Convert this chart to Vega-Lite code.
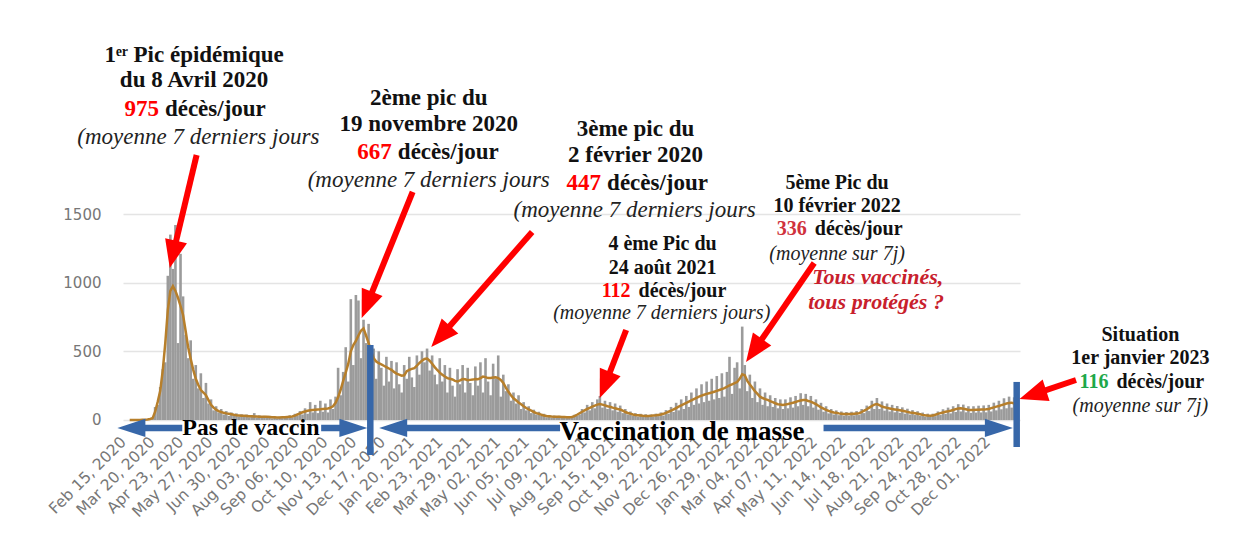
{
"$schema": "https://vega.github.io/schema/vega-lite/v6.json",
"width": 897, "height": 400,
"autosize": {"type": "none"},
"padding": {"left": 123, "top": 30, "right": 237, "bottom": 122},
"background": "white",
"config": {"view": {"stroke": null},
 "axisX": {"labelAngle": -45, "labelFont": "DejaVu Sans", "labelFontSize": 15.5, "labelColor": "#777777", "ticks": false, "domain": false, "grid": false, "labelOverlap": false, "labelSeparation": -400, "labelPadding": 4, "labelBound": false, "labelFlush": false},
 "axisY": {"grid": true, "gridColor": "#e4e4e4", "gridWidth": 1.5, "domain": false, "ticks": false, "labelFont": "DejaVu Sans", "labelFontSize": 15, "labelColor": "#777777", "labelPadding": 22, "labelOverlap": false}},
"datasets": {
"quotidien": [
{"date":"2020-02-17","deces":0,"moy7":0},{"date":"2020-02-20","deces":0,"moy7":0},{"date":"2020-02-23","deces":0,"moy7":0},{"date":"2020-02-26","deces":1,"moy7":0},{"date":"2020-02-29","deces":1,"moy7":0},
{"date":"2020-03-03","deces":2,"moy7":1},{"date":"2020-03-06","deces":3,"moy7":2},{"date":"2020-03-09","deces":6,"moy7":4},{"date":"2020-03-12","deces":12,"moy7":7},{"date":"2020-03-15","deces":18,"moy7":12},{"date":"2020-03-18","deces":95,"moy7":60},{"date":"2020-03-21","deces":110,"moy7":130},{"date":"2020-03-24","deces":240,"moy7":210},{"date":"2020-03-27","deces":370,"moy7":360},{"date":"2020-03-30","deces":420,"moy7":560},
{"date":"2020-04-02","deces":1050,"moy7":800},{"date":"2020-04-05","deces":1350,"moy7":940},{"date":"2020-04-08","deces":1100,"moy7":975},{"date":"2020-04-11","deces":1420,"moy7":940},{"date":"2020-04-14","deces":560,"moy7":890},{"date":"2020-04-17","deces":1210,"moy7":830},{"date":"2020-04-20","deces":900,"moy7":765},{"date":"2020-04-23","deces":620,"moy7":650},{"date":"2020-04-26","deces":450,"moy7":530},{"date":"2020-04-29","deces":580,"moy7":445},
{"date":"2020-05-02","deces":300,"moy7":365},{"date":"2020-05-05","deces":400,"moy7":300},{"date":"2020-05-08","deces":230,"moy7":255},{"date":"2020-05-11","deces":340,"moy7":218},{"date":"2020-05-14","deces":160,"moy7":200},{"date":"2020-05-17","deces":270,"moy7":180},{"date":"2020-05-20","deces":120,"moy7":145},{"date":"2020-05-23","deces":150,"moy7":110},{"date":"2020-05-26","deces":70,"moy7":90},{"date":"2020-05-29","deces":100,"moy7":75},
{"date":"2020-06-01","deces":55,"moy7":65},{"date":"2020-06-04","deces":80,"moy7":58},{"date":"2020-06-07","deces":40,"moy7":52},{"date":"2020-06-10","deces":65,"moy7":48},{"date":"2020-06-13","deces":30,"moy7":45},{"date":"2020-06-16","deces":55,"moy7":42},{"date":"2020-06-19","deces":30,"moy7":38},{"date":"2020-06-22","deces":48,"moy7":35},{"date":"2020-06-25","deces":25,"moy7":33},{"date":"2020-06-28","deces":42,"moy7":31},
{"date":"2020-07-01","deces":22,"moy7":30},{"date":"2020-07-04","deces":40,"moy7":29},{"date":"2020-07-07","deces":20,"moy7":28},{"date":"2020-07-10","deces":36,"moy7":27},{"date":"2020-07-13","deces":50,"moy7":26},{"date":"2020-07-16","deces":18,"moy7":25},{"date":"2020-07-19","deces":34,"moy7":24},{"date":"2020-07-22","deces":15,"moy7":24},{"date":"2020-07-25","deces":30,"moy7":24},{"date":"2020-07-28","deces":18,"moy7":23},{"date":"2020-07-31","deces":30,"moy7":22},
{"date":"2020-08-03","deces":12,"moy7":20},{"date":"2020-08-06","deces":26,"moy7":19},{"date":"2020-08-09","deces":12,"moy7":18},{"date":"2020-08-12","deces":24,"moy7":18},{"date":"2020-08-15","deces":14,"moy7":19},{"date":"2020-08-18","deces":28,"moy7":20},{"date":"2020-08-21","deces":16,"moy7":22},{"date":"2020-08-24","deces":34,"moy7":24},{"date":"2020-08-27","deces":18,"moy7":26},{"date":"2020-08-30","deces":45,"moy7":32},
{"date":"2020-09-02","deces":30,"moy7":40},{"date":"2020-09-05","deces":65,"moy7":48},{"date":"2020-09-08","deces":40,"moy7":56},{"date":"2020-09-11","deces":85,"moy7":62},{"date":"2020-09-14","deces":45,"moy7":67},{"date":"2020-09-17","deces":130,"moy7":71},{"date":"2020-09-20","deces":55,"moy7":73},{"date":"2020-09-23","deces":110,"moy7":75},{"date":"2020-09-26","deces":50,"moy7":77},{"date":"2020-09-29","deces":140,"moy7":78},
{"date":"2020-10-02","deces":60,"moy7":80},{"date":"2020-10-05","deces":120,"moy7":82},{"date":"2020-10-08","deces":55,"moy7":84},{"date":"2020-10-11","deces":150,"moy7":90},{"date":"2020-10-14","deces":80,"moy7":100},{"date":"2020-10-17","deces":170,"moy7":125},{"date":"2020-10-20","deces":380,"moy7":165},{"date":"2020-10-23","deces":180,"moy7":220},{"date":"2020-10-26","deces":350,"moy7":285},{"date":"2020-10-29","deces":530,"moy7":345},
{"date":"2020-11-01","deces":280,"moy7":410},{"date":"2020-11-04","deces":880,"moy7":500},{"date":"2020-11-07","deces":400,"moy7":545},{"date":"2020-11-10","deces":910,"moy7":575},{"date":"2020-11-13","deces":870,"moy7":615},{"date":"2020-11-16","deces":450,"moy7":650},{"date":"2020-11-19","deces":730,"moy7":667},{"date":"2020-11-22","deces":560,"moy7":615},{"date":"2020-11-25","deces":700,"moy7":560},{"date":"2020-11-28","deces":320,"moy7":500},
{"date":"2020-12-01","deces":520,"moy7":450},{"date":"2020-12-04","deces":300,"moy7":425},{"date":"2020-12-07","deces":500,"moy7":413},{"date":"2020-12-10","deces":380,"moy7":405},{"date":"2020-12-13","deces":250,"moy7":395},{"date":"2020-12-16","deces":460,"moy7":385},{"date":"2020-12-19","deces":280,"moy7":375},{"date":"2020-12-22","deces":430,"moy7":365},{"date":"2020-12-25","deces":230,"moy7":350},{"date":"2020-12-28","deces":420,"moy7":338},{"date":"2020-12-31","deces":260,"moy7":330},
{"date":"2021-01-03","deces":200,"moy7":322},{"date":"2021-01-06","deces":400,"moy7":325},{"date":"2021-01-09","deces":300,"moy7":355},{"date":"2021-01-12","deces":460,"moy7":365},{"date":"2021-01-15","deces":310,"moy7":372},{"date":"2021-01-18","deces":240,"moy7":378},{"date":"2021-01-21","deces":470,"moy7":395},{"date":"2021-01-24","deces":330,"moy7":415},{"date":"2021-01-27","deces":500,"moy7":432},{"date":"2021-01-30","deces":420,"moy7":445},
{"date":"2021-02-02","deces":520,"moy7":447},{"date":"2021-02-05","deces":360,"moy7":432},{"date":"2021-02-08","deces":470,"moy7":410},{"date":"2021-02-11","deces":330,"moy7":385},{"date":"2021-02-14","deces":260,"moy7":364},{"date":"2021-02-17","deces":450,"moy7":345},{"date":"2021-02-20","deces":280,"moy7":330},{"date":"2021-02-23","deces":400,"moy7":316},{"date":"2021-02-26","deces":200,"moy7":305},
{"date":"2021-03-01","deces":380,"moy7":300},{"date":"2021-03-04","deces":250,"moy7":295},{"date":"2021-03-07","deces":170,"moy7":285},{"date":"2021-03-10","deces":370,"moy7":280},{"date":"2021-03-13","deces":260,"moy7":288},{"date":"2021-03-16","deces":400,"moy7":298},{"date":"2021-03-19","deces":200,"moy7":296},{"date":"2021-03-22","deces":380,"moy7":290},{"date":"2021-03-25","deces":270,"moy7":292},{"date":"2021-03-28","deces":180,"moy7":294},{"date":"2021-03-31","deces":390,"moy7":298},
{"date":"2021-04-03","deces":250,"moy7":296},{"date":"2021-04-06","deces":420,"moy7":305},{"date":"2021-04-09","deces":200,"moy7":316},{"date":"2021-04-12","deces":450,"moy7":312},{"date":"2021-04-15","deces":280,"moy7":305},{"date":"2021-04-18","deces":180,"moy7":306},{"date":"2021-04-21","deces":410,"moy7":310},{"date":"2021-04-24","deces":300,"moy7":311},{"date":"2021-04-27","deces":470,"moy7":305},{"date":"2021-04-30","deces":170,"moy7":291},
{"date":"2021-05-03","deces":330,"moy7":270},{"date":"2021-05-06","deces":210,"moy7":235},{"date":"2021-05-09","deces":260,"moy7":205},{"date":"2021-05-12","deces":140,"moy7":180},{"date":"2021-05-15","deces":200,"moy7":158},{"date":"2021-05-18","deces":120,"moy7":143},{"date":"2021-05-21","deces":180,"moy7":128},{"date":"2021-05-24","deces":80,"moy7":115},{"date":"2021-05-27","deces":130,"moy7":100},{"date":"2021-05-30","deces":70,"moy7":87},
{"date":"2021-06-02","deces":100,"moy7":78},{"date":"2021-06-05","deces":50,"moy7":68},{"date":"2021-06-08","deces":75,"moy7":58},{"date":"2021-06-11","deces":40,"moy7":50},{"date":"2021-06-14","deces":60,"moy7":44},{"date":"2021-06-17","deces":30,"moy7":38},{"date":"2021-06-20","deces":45,"moy7":33},{"date":"2021-06-23","deces":20,"moy7":29},{"date":"2021-06-26","deces":36,"moy7":27},{"date":"2021-06-29","deces":18,"moy7":25},
{"date":"2021-07-02","deces":32,"moy7":24},{"date":"2021-07-05","deces":15,"moy7":23},{"date":"2021-07-08","deces":30,"moy7":24},{"date":"2021-07-11","deces":18,"moy7":22},{"date":"2021-07-14","deces":28,"moy7":21},{"date":"2021-07-17","deces":14,"moy7":20},{"date":"2021-07-20","deces":26,"moy7":20},{"date":"2021-07-23","deces":18,"moy7":22},{"date":"2021-07-26","deces":38,"moy7":28},{"date":"2021-07-29","deces":30,"moy7":38},
{"date":"2021-08-01","deces":40,"moy7":49},{"date":"2021-08-04","deces":80,"moy7":60},{"date":"2021-08-07","deces":55,"moy7":70},{"date":"2021-08-10","deces":110,"moy7":80},{"date":"2021-08-13","deces":70,"moy7":88},{"date":"2021-08-16","deces":130,"moy7":97},{"date":"2021-08-19","deces":85,"moy7":105},{"date":"2021-08-22","deces":150,"moy7":112},{"date":"2021-08-25","deces":175,"moy7":116},{"date":"2021-08-28","deces":90,"moy7":112},{"date":"2021-08-31","deces":140,"moy7":106},
{"date":"2021-09-03","deces":80,"moy7":100},{"date":"2021-09-06","deces":130,"moy7":96},{"date":"2021-09-09","deces":70,"moy7":90},{"date":"2021-09-12","deces":120,"moy7":85},{"date":"2021-09-15","deces":60,"moy7":80},{"date":"2021-09-18","deces":105,"moy7":76},{"date":"2021-09-21","deces":50,"moy7":68},{"date":"2021-09-24","deces":80,"moy7":58},{"date":"2021-09-27","deces":40,"moy7":51},{"date":"2021-09-30","deces":62,"moy7":46},
{"date":"2021-10-03","deces":30,"moy7":40},{"date":"2021-10-06","deces":50,"moy7":36},{"date":"2021-10-09","deces":25,"moy7":34},{"date":"2021-10-12","deces":45,"moy7":32},{"date":"2021-10-15","deces":22,"moy7":30},{"date":"2021-10-18","deces":42,"moy7":29},{"date":"2021-10-21","deces":22,"moy7":29},{"date":"2021-10-24","deces":40,"moy7":30},{"date":"2021-10-27","deces":25,"moy7":32},{"date":"2021-10-30","deces":46,"moy7":34},
{"date":"2021-11-02","deces":28,"moy7":37},{"date":"2021-11-05","deces":55,"moy7":40},{"date":"2021-11-08","deces":32,"moy7":45},{"date":"2021-11-11","deces":72,"moy7":52},{"date":"2021-11-14","deces":45,"moy7":60},{"date":"2021-11-17","deces":95,"moy7":68},{"date":"2021-11-20","deces":58,"moy7":77},{"date":"2021-11-23","deces":125,"moy7":87},{"date":"2021-11-26","deces":70,"moy7":97},{"date":"2021-11-29","deces":150,"moy7":106},
{"date":"2021-12-02","deces":80,"moy7":115},{"date":"2021-12-05","deces":175,"moy7":124},{"date":"2021-12-08","deces":95,"moy7":134},{"date":"2021-12-11","deces":200,"moy7":143},{"date":"2021-12-14","deces":110,"moy7":152},{"date":"2021-12-17","deces":230,"moy7":161},{"date":"2021-12-20","deces":120,"moy7":170},{"date":"2021-12-23","deces":260,"moy7":177},{"date":"2021-12-26","deces":130,"moy7":184},{"date":"2021-12-29","deces":280,"moy7":190},
{"date":"2022-01-01","deces":140,"moy7":195},{"date":"2022-01-04","deces":300,"moy7":200},{"date":"2022-01-07","deces":150,"moy7":206},{"date":"2022-01-10","deces":320,"moy7":212},{"date":"2022-01-13","deces":160,"moy7":218},{"date":"2022-01-16","deces":340,"moy7":225},{"date":"2022-01-19","deces":170,"moy7":232},{"date":"2022-01-22","deces":350,"moy7":242},{"date":"2022-01-25","deces":460,"moy7":252},{"date":"2022-01-28","deces":190,"moy7":260},{"date":"2022-01-31","deces":380,"moy7":268},
{"date":"2022-02-03","deces":420,"moy7":276},{"date":"2022-02-06","deces":230,"moy7":300},{"date":"2022-02-09","deces":680,"moy7":332},{"date":"2022-02-12","deces":400,"moy7":325},{"date":"2022-02-15","deces":210,"moy7":285},{"date":"2022-02-18","deces":330,"moy7":258},{"date":"2022-02-21","deces":160,"moy7":235},{"date":"2022-02-24","deces":280,"moy7":210},{"date":"2022-02-27","deces":130,"moy7":190},
{"date":"2022-03-02","deces":230,"moy7":170},{"date":"2022-03-05","deces":110,"moy7":160},{"date":"2022-03-08","deces":200,"moy7":152},{"date":"2022-03-11","deces":100,"moy7":146},{"date":"2022-03-14","deces":180,"moy7":138},{"date":"2022-03-17","deces":95,"moy7":130},{"date":"2022-03-20","deces":160,"moy7":122},{"date":"2022-03-23","deces":85,"moy7":115},{"date":"2022-03-26","deces":150,"moy7":112},{"date":"2022-03-29","deces":80,"moy7":110},
{"date":"2022-04-01","deces":150,"moy7":112},{"date":"2022-04-04","deces":85,"moy7":116},{"date":"2022-04-07","deces":165,"moy7":121},{"date":"2022-04-10","deces":90,"moy7":126},{"date":"2022-04-13","deces":175,"moy7":131},{"date":"2022-04-16","deces":100,"moy7":137},{"date":"2022-04-19","deces":195,"moy7":142},{"date":"2022-04-22","deces":110,"moy7":146},{"date":"2022-04-25","deces":190,"moy7":145},{"date":"2022-04-28","deces":100,"moy7":138},
{"date":"2022-05-01","deces":175,"moy7":134},{"date":"2022-05-04","deces":90,"moy7":125},{"date":"2022-05-07","deces":150,"moy7":115},{"date":"2022-05-10","deces":75,"moy7":104},{"date":"2022-05-13","deces":125,"moy7":92},{"date":"2022-05-16","deces":60,"moy7":82},{"date":"2022-05-19","deces":100,"moy7":74},{"date":"2022-05-22","deces":48,"moy7":66},{"date":"2022-05-25","deces":80,"moy7":60},{"date":"2022-05-28","deces":40,"moy7":55},{"date":"2022-05-31","deces":70,"moy7":52},
{"date":"2022-06-03","deces":35,"moy7":48},{"date":"2022-06-06","deces":62,"moy7":46},{"date":"2022-06-09","deces":32,"moy7":44},{"date":"2022-06-12","deces":58,"moy7":43},{"date":"2022-06-15","deces":32,"moy7":43},{"date":"2022-06-18","deces":60,"moy7":44},{"date":"2022-06-21","deces":34,"moy7":46},{"date":"2022-06-24","deces":65,"moy7":48},{"date":"2022-06-27","deces":36,"moy7":49},{"date":"2022-06-30","deces":80,"moy7":58},
{"date":"2022-07-03","deces":50,"moy7":68},{"date":"2022-07-06","deces":105,"moy7":78},{"date":"2022-07-09","deces":65,"moy7":90},{"date":"2022-07-12","deces":140,"moy7":102},{"date":"2022-07-15","deces":80,"moy7":112},{"date":"2022-07-18","deces":160,"moy7":116},{"date":"2022-07-21","deces":80,"moy7":108},{"date":"2022-07-24","deces":135,"moy7":98},{"date":"2022-07-27","deces":68,"moy7":92},{"date":"2022-07-30","deces":120,"moy7":88},
{"date":"2022-08-02","deces":62,"moy7":84},{"date":"2022-08-05","deces":110,"moy7":80},{"date":"2022-08-08","deces":56,"moy7":77},{"date":"2022-08-11","deces":102,"moy7":74},{"date":"2022-08-14","deces":52,"moy7":71},{"date":"2022-08-17","deces":92,"moy7":67},{"date":"2022-08-20","deces":46,"moy7":63},{"date":"2022-08-23","deces":82,"moy7":59},{"date":"2022-08-26","deces":40,"moy7":55},{"date":"2022-08-29","deces":72,"moy7":52},
{"date":"2022-09-01","deces":36,"moy7":49},{"date":"2022-09-04","deces":64,"moy7":45},{"date":"2022-09-07","deces":30,"moy7":41},{"date":"2022-09-10","deces":54,"moy7":37},{"date":"2022-09-13","deces":25,"moy7":34},{"date":"2022-09-16","deces":46,"moy7":32},{"date":"2022-09-19","deces":22,"moy7":31},{"date":"2022-09-22","deces":46,"moy7":32},{"date":"2022-09-25","deces":28,"moy7":38},{"date":"2022-09-28","deces":62,"moy7":44},
{"date":"2022-10-01","deces":36,"moy7":50},{"date":"2022-10-04","deces":78,"moy7":55},{"date":"2022-10-07","deces":44,"moy7":60},{"date":"2022-10-10","deces":90,"moy7":63},{"date":"2022-10-13","deces":48,"moy7":67},{"date":"2022-10-16","deces":100,"moy7":73},{"date":"2022-10-19","deces":58,"moy7":79},{"date":"2022-10-22","deces":115,"moy7":84},{"date":"2022-10-25","deces":62,"moy7":85},{"date":"2022-10-28","deces":112,"moy7":82},{"date":"2022-10-31","deces":56,"moy7":78},
{"date":"2022-11-03","deces":100,"moy7":73},{"date":"2022-11-06","deces":52,"moy7":72},{"date":"2022-11-09","deces":100,"moy7":73},{"date":"2022-11-12","deces":54,"moy7":74},{"date":"2022-11-15","deces":104,"moy7":75},{"date":"2022-11-18","deces":55,"moy7":76},{"date":"2022-11-21","deces":106,"moy7":77},{"date":"2022-11-24","deces":56,"moy7":78},{"date":"2022-11-27","deces":110,"moy7":80},{"date":"2022-11-30","deces":62,"moy7":86},
{"date":"2022-12-03","deces":126,"moy7":92},{"date":"2022-12-06","deces":70,"moy7":97},{"date":"2022-12-09","deces":140,"moy7":102},{"date":"2022-12-12","deces":78,"moy7":108},{"date":"2022-12-15","deces":158,"moy7":114},{"date":"2022-12-18","deces":85,"moy7":120},{"date":"2022-12-21","deces":170,"moy7":123},{"date":"2022-12-24","deces":90,"moy7":126},{"date":"2022-12-27","deces":165,"moy7":120},{"date":"2022-12-30","deces":150,"moy7":116}
],
"titresG": [
{"date":"2020-05-03","niveau":2658,"texte":"1ᵉʳ Pic épidémique"},
{"date":"2020-05-03","niveau":2476,"texte":"du 8 Avril 2020"},
{"date":"2021-02-04","niveau":2345,"texte":"2ème pic du"},
{"date":"2021-02-04","niveau":2156,"texte":"19 novembre 2020"},
{"date":"2021-10-06","niveau":2119,"texte":"3ème pic du"},
{"date":"2021-10-06","niveau":1930,"texte":"2 février 2020"}
],
"titresP": [
{"date":"2021-11-07","niveau":1282,"texte":"4 ème Pic du"},
{"date":"2021-11-07","niveau":1107,"texte":"24 août 2021"},
{"date":"2022-06-01","niveau":1726,"texte":"5ème Pic du"},
{"date":"2022-06-01","niveau":1559,"texte":"10 février 2022"},
{"date":"2023-05-25","niveau":619,"texte":"Situation"},
{"date":"2023-05-25","niveau":452,"texte":"1er janvier 2023"}
],
"chiffresG": [
{"date":"2020-03-26","niveau":2265,"nombre":"975","unite":"décès/jour","teinte":"rouge"},
{"date":"2020-12-26","niveau":1952,"nombre":"667","unite":"décès/jour","teinte":"rouge"},
{"date":"2021-08-30","niveau":1726,"nombre":"447","unite":"décès/jour","teinte":"rouge"}
],
"chiffresP": [
{"date":"2021-10-05","niveau":940,"nombre":"112","unite":"décès/jour","teinte":"rouge"},
{"date":"2022-05-01","niveau":1391,"nombre":"336","unite":"décès/jour","teinte":"carmin"},
{"date":"2023-04-22","niveau":277,"nombre":"116","unite":"décès/jour","teinte":"vert"}
],
"notesG": [
{"date":"2020-05-08","niveau":2061,"texte":"(moyenne 7 derniers jours"},
{"date":"2021-02-04","niveau":1748,"texte":"(moyenne 7 derniers jours"},
{"date":"2021-10-05","niveau":1530,"texte":"(moyenne 7 derniers jours"}
],
"notesP": [
{"date":"2021-11-06","niveau":779,"texte":"(moyenne 7 derniers jours)"},
{"date":"2022-06-01","niveau":1209,"texte":"(moyenne sur 7j)"},
{"date":"2023-05-25","niveau":102,"texte":"(moyenne sur 7j)"}
],
"question": [
{"date":"2022-07-19","niveau":1042,"texte":"Tous vaccinés,"},
{"date":"2022-07-17","niveau":859,"texte":"tous protégés ?"}
],
"bandeau": [
{"date":"2020-07-09","niveau":-58,"texte":"Pas de vaccin"},
{"date":"2021-11-30","niveau":-87,"texte":"Vaccination de masse"}
],
"flechesRouges": [
{"debut":"2020-05-06","y1":1930,"fin":"2020-04-08","y2":1206,"dir":13},
{"debut":"2021-01-16","y1":1661,"fin":"2020-11-23","y2":838,"dir":22},
{"debut":"2021-06-06","y1":1369,"fin":"2021-02-18","y2":608,"dir":42},
{"debut":"2021-09-25","y1":655,"fin":"2021-08-31","y2":255,"dir":22},
{"debut":"2022-05-05","y1":1143,"fin":"2022-02-23","y2":506,"dir":35},
{"debut":"2023-03-10","y1":291,"fin":"2023-01-18","y2":185,"dir":72}
],
"traitsBleus": [
{"debut":"2020-02-19","y1":-58,"fin":"2020-04-19","y2":-58},
{"debut":"2020-09-30","y1":-58,"fin":"2020-11-07","y2":-58},
{"debut":"2020-12-24","y1":-58,"fin":"2021-07-09","y2":-58},
{"debut":"2022-05-16","y1":-58,"fin":"2022-12-09","y2":-58},
{"debut":"2020-11-27","y1":546,"fin":"2020-11-27","y2":-255},
{"debut":"2022-12-30","y1":277,"fin":"2022-12-30","y2":-197}
],
"pointesBleues": [
{"date":"2020-02-19","niveau":-58,"dir":90},
{"date":"2020-11-07","niveau":-58,"dir":270},
{"date":"2020-12-24","niveau":-58,"dir":90},
{"date":"2022-12-09","niveau":-58,"dir":270}
]
},
"data": {"name": "quotidien"},
"layer": [
{"mark": {"type": "bar", "color": "#9b9b9b", "width": 2.6},
 "encoding": {
  "x": {"field": "date", "type": "temporal", "title": null,
   "scale": {"type": "utc", "domain": [{"year":2020,"month":2,"date":15,"utc":true},{"year":2022,"month":12,"date":28,"utc":true}]},
   "axis": {"title": null, "labelExpr": "utcFormat(datum.value, '%b %d, %Y')", "labelAngle": -45, "tickCount": 40, "labelOverlap": false, "labelSeparation": -400, "labelBound": false, "labelFlush": false, "labelOffset": -10,
    "values": [{"year":2020,"month":2,"date":15,"utc":true},{"year":2020,"month":3,"date":20,"utc":true},{"year":2020,"month":4,"date":23,"utc":true},{"year":2020,"month":5,"date":27,"utc":true},{"year":2020,"month":6,"date":30,"utc":true},{"year":2020,"month":8,"date":3,"utc":true},{"year":2020,"month":9,"date":6,"utc":true},{"year":2020,"month":10,"date":10,"utc":true},{"year":2020,"month":11,"date":13,"utc":true},{"year":2020,"month":12,"date":17,"utc":true},{"year":2021,"month":1,"date":20,"utc":true},{"year":2021,"month":2,"date":23,"utc":true},{"year":2021,"month":3,"date":29,"utc":true},{"year":2021,"month":5,"date":2,"utc":true},{"year":2021,"month":6,"date":5,"utc":true},{"year":2021,"month":7,"date":9,"utc":true},{"year":2021,"month":8,"date":12,"utc":true},{"year":2021,"month":9,"date":15,"utc":true},{"year":2021,"month":10,"date":19,"utc":true},{"year":2021,"month":11,"date":22,"utc":true},{"year":2021,"month":12,"date":26,"utc":true},{"year":2022,"month":1,"date":29,"utc":true},{"year":2022,"month":3,"date":4,"utc":true},{"year":2022,"month":4,"date":7,"utc":true},{"year":2022,"month":5,"date":11,"utc":true},{"year":2022,"month":6,"date":14,"utc":true},{"year":2022,"month":7,"date":18,"utc":true},{"year":2022,"month":8,"date":21,"utc":true},{"year":2022,"month":9,"date":24,"utc":true},{"year":2022,"month":10,"date":28,"utc":true},{"year":2022,"month":12,"date":1,"utc":true}]}},
  "y": {"field": "deces", "type": "quantitative", "title": null,
   "scale": {"domain": [-73, 2840], "nice": false, "zero": false},
   "axis": {"title": null, "values": [0, 500, 1000, 1500], "labelExpr": "format(datum.value, 'd')"}},
  "y2": {"datum": 0}
 }},
{"mark": {"type": "line", "color": "#b77f2b", "strokeWidth": 2.5},
 "encoding": {"x": {"field": "date", "type": "temporal", "title": null, "axis": {"labelOverlap": false}}, "y": {"field": "moy7", "type": "quantitative", "title": null}}},
{"data": {"name": "traitsBleus"},
 "mark": {"type": "rule", "color": "#3767a9", "strokeWidth": 6.5, "strokeCap": "butt"},
 "encoding": {"x": {"field": "debut", "type": "temporal", "title": null, "axis": {"labelOverlap": false}}, "x2": {"field": "fin"}, "y": {"field": "y1", "type": "quantitative", "title": null}, "y2": {"field": "y2"}}},
{"data": {"name": "pointesBleues"},
 "mark": {"type": "point", "shape": "M0,1L-0.65,-1L0.65,-1Z", "filled": true, "size": 784, "color": "#3767a9", "opacity": 1, "strokeWidth": 0},
 "encoding": {"x": {"field": "date", "type": "temporal", "title": null, "axis": {"labelOverlap": false}}, "y": {"field": "niveau", "type": "quantitative", "title": null}, "angle": {"field": "dir", "type": "quantitative", "scale": null}}},
{"data": {"name": "flechesRouges"},
 "mark": {"type": "rule", "color": "#ff0000", "strokeWidth": 6, "strokeCap": "butt"},
 "encoding": {"x": {"field": "debut", "type": "temporal", "title": null, "axis": {"labelOverlap": false}}, "x2": {"field": "fin"}, "y": {"field": "y1", "type": "quantitative", "title": null}, "y2": {"field": "y2"}}},
{"data": {"name": "flechesRouges"},
 "mark": {"type": "point", "shape": "M0,1L-0.8,-1L0.8,-1Z", "filled": true, "size": 784, "color": "#ff0000", "opacity": 1, "strokeWidth": 0},
 "encoding": {"x": {"field": "fin", "type": "temporal", "title": null, "axis": {"labelOverlap": false}}, "y": {"field": "y2", "type": "quantitative", "title": null}, "angle": {"field": "dir", "type": "quantitative", "scale": null}}},
{"data": {"name": "titresG"},
 "mark": {"type": "text", "font": "Liberation Serif", "fontSize": 23, "fontWeight": "bold", "color": "#111111", "align": "center", "baseline": "middle"},
 "encoding": {"x": {"field": "date", "type": "temporal", "title": null, "axis": {"labelOverlap": false}}, "y": {"field": "niveau", "type": "quantitative", "title": null}, "text": {"field": "texte"}}},
{"data": {"name": "titresP"},
 "mark": {"type": "text", "font": "Liberation Serif", "fontSize": 20, "fontWeight": "bold", "color": "#111111", "align": "center", "baseline": "middle"},
 "encoding": {"x": {"field": "date", "type": "temporal", "title": null, "axis": {"labelOverlap": false}}, "y": {"field": "niveau", "type": "quantitative", "title": null}, "text": {"field": "texte"}}},
{"data": {"name": "chiffresG"},
 "mark": {"type": "text", "font": "Liberation Serif", "fontSize": 23, "fontWeight": "bold", "align": "right", "baseline": "middle", "dx": -3},
 "encoding": {"x": {"field": "date", "type": "temporal", "title": null, "axis": {"labelOverlap": false}}, "y": {"field": "niveau", "type": "quantitative", "title": null}, "text": {"field": "nombre"},
  "color": {"field": "teinte", "type": "nominal", "scale": {"domain": ["rouge", "carmin", "vert"], "range": ["#ff0000", "#d0323d", "#1ea84a"]}, "legend": null}}},
{"data": {"name": "chiffresG"},
 "mark": {"type": "text", "font": "Liberation Serif", "fontSize": 23, "fontWeight": "bold", "color": "#111111", "align": "left", "baseline": "middle", "dx": 3},
 "encoding": {"x": {"field": "date", "type": "temporal", "title": null, "axis": {"labelOverlap": false}}, "y": {"field": "niveau", "type": "quantitative", "title": null}, "text": {"field": "unite"}}},
{"data": {"name": "chiffresP"},
 "mark": {"type": "text", "font": "Liberation Serif", "fontSize": 20, "fontWeight": "bold", "align": "right", "baseline": "middle", "dx": -4},
 "encoding": {"x": {"field": "date", "type": "temporal", "title": null, "axis": {"labelOverlap": false}}, "y": {"field": "niveau", "type": "quantitative", "title": null}, "text": {"field": "nombre"},
  "color": {"field": "teinte", "type": "nominal", "scale": {"domain": ["rouge", "carmin", "vert"], "range": ["#ff0000", "#d0323d", "#1ea84a"]}, "legend": null}}},
{"data": {"name": "chiffresP"},
 "mark": {"type": "text", "font": "Liberation Serif", "fontSize": 20, "fontWeight": "bold", "color": "#111111", "align": "left", "baseline": "middle", "dx": 4},
 "encoding": {"x": {"field": "date", "type": "temporal", "title": null, "axis": {"labelOverlap": false}}, "y": {"field": "niveau", "type": "quantitative", "title": null}, "text": {"field": "unite"}}},
{"data": {"name": "notesG"},
 "mark": {"type": "text", "font": "Liberation Serif", "fontSize": 23, "fontStyle": "italic", "color": "#222222", "align": "center", "baseline": "middle"},
 "encoding": {"x": {"field": "date", "type": "temporal", "title": null, "axis": {"labelOverlap": false}}, "y": {"field": "niveau", "type": "quantitative", "title": null}, "text": {"field": "texte"}}},
{"data": {"name": "notesP"},
 "mark": {"type": "text", "font": "Liberation Serif", "fontSize": 20, "fontStyle": "italic", "color": "#222222", "align": "center", "baseline": "middle"},
 "encoding": {"x": {"field": "date", "type": "temporal", "title": null, "axis": {"labelOverlap": false}}, "y": {"field": "niveau", "type": "quantitative", "title": null}, "text": {"field": "texte"}}},
{"data": {"name": "question"},
 "mark": {"type": "text", "font": "Liberation Serif", "fontSize": 22, "fontStyle": "italic", "fontWeight": "bold", "color": "#c8202c", "align": "center", "baseline": "middle"},
 "encoding": {"x": {"field": "date", "type": "temporal", "title": null, "axis": {"labelOverlap": false}}, "y": {"field": "niveau", "type": "quantitative", "title": null}, "text": {"field": "texte"}}},
{"data": {"name": "bandeau"},
 "transform": [{"filter": "datum.texte == 'Pas de vaccin'"}],
 "mark": {"type": "text", "font": "Liberation Serif", "fontSize": 24, "fontWeight": "bold", "color": "#000000", "align": "center", "baseline": "middle"},
 "encoding": {"x": {"field": "date", "type": "temporal", "title": null, "axis": {"labelOverlap": false}}, "y": {"field": "niveau", "type": "quantitative", "title": null}, "text": {"field": "texte"}}},
{"data": {"name": "bandeau"},
 "transform": [{"filter": "datum.texte == 'Vaccination de masse'"}],
 "mark": {"type": "text", "font": "Liberation Serif", "fontSize": 27, "fontWeight": "bold", "color": "#000000", "align": "center", "baseline": "middle"},
 "encoding": {"x": {"field": "date", "type": "temporal", "title": null, "axis": {"labelOverlap": false}}, "y": {"field": "niveau", "type": "quantitative", "title": null}, "text": {"field": "texte"}}}
]
}
